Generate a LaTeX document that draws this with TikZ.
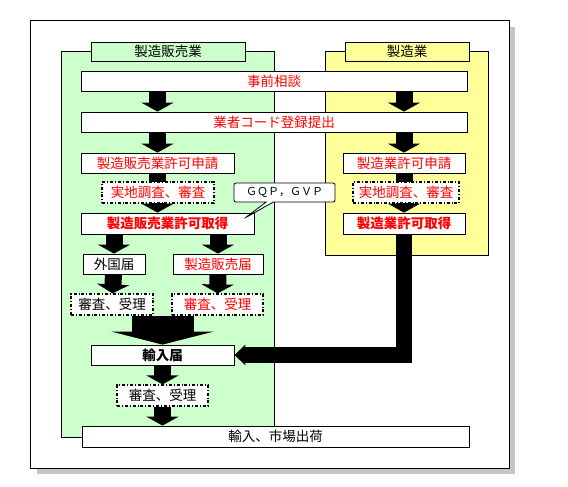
\documentclass[tikz,border=0pt]{standalone}
\usepackage{fontspec}
\newfontfamily\jp{Noto Sans CJK JP}
\usetikzlibrary{arrows.meta,shapes.callouts}
\definecolor{panelgreen}{HTML}{CCFFCC}
\definecolor{panelyellow}{HTML}{FFFF99}
\tikzset{
	box/.style={draw, fill=white, line width=0.8pt, inner sep=0pt, font=\jp\fontsize{13.5}{15}\selectfont},
	redbox/.style={box, text=red},
	boldbox/.style={font=\jp\bfseries\fontsize{13.5}{15}\selectfont},
	chkbox/.style={box, dash dot, line width=1.2pt},
	blk/.style={-{Triangle[width=32pt,length=9pt]}, line width=17pt},
}
\begin{document}
\begin{tikzpicture}[x=1pt,y=-1pt]
	\useasboundingbox (0,0) rectangle (568,487);
	% frame and panels
	\fill[gray!45] (37,27) rectangle (515,474);
	\draw[fill=white, line width=0.8pt] (30,20) rectangle (509,468);
	\draw[fill=panelgreen, line width=0.8pt] (61,51) rectangle (274,437);
	\draw[fill=panelyellow, line width=0.8pt] (325,51) rectangle (488,255);
	\node[box, fill=panelgreen, minimum width=154pt, minimum height=19pt] (labelS) at (168,51.5) {製造販売業};
	\node[box, fill=panelyellow, minimum width=124pt, minimum height=19pt] (labelM) at (407,51.5) {製造業};
	% boxes
	\node[redbox, minimum width=386pt, minimum height=20pt] (jizen) at (274,81) {事前相談};
	\node[redbox, minimum width=386pt, minimum height=20pt] (gyosha) at (274,122) {業者コード登録提出};
	\node[redbox, minimum width=153pt, minimum height=20pt] (shinseiS) at (157.5,163) {製造販売業許可申請};
	\node[redbox, boldbox, minimum width=173pt, minimum height=21pt] (shutokuS) at (167.5,223.5) {製造販売業許可取得};
	\node[redbox, minimum width=122pt, minimum height=20pt] (shinseiM) at (404,163) {製造業許可申請};
	\node[redbox, boldbox, minimum width=122pt, minimum height=21pt] (shutokuM) at (404,223.5) {製造業許可取得};
	\node[box, minimum width=62pt, minimum height=20pt] (gaikoku) at (114,264) {外国届};
	\node[redbox, minimum width=90pt, minimum height=20pt] (todoke) at (218,264) {製造販売届};
	\node[box, boldbox, minimum width=143pt, minimum height=20pt] (yunyu) at (162.5,355) {輸入届};
	\node[box, minimum width=387pt, minimum height=21pt] (shukka) at (275.5,436.5) {輸入、市場出荷};
	% arrows
	\draw[blk] (jizen.south -| shinseiS) -- (gyosha.north -| shinseiS);
	\draw[blk] (jizen.south -| shinseiM) -- (gyosha.north -| shinseiM);
	\draw[blk] (gyosha.south -| shinseiS) -- (shinseiS.north);
	\draw[blk] (gyosha.south -| shinseiM) -- (shinseiM.north);
	\draw[blk] (shinseiS.south) -- (shinseiS.south |- shutokuS.north);
	\draw[blk] (shinseiM.south) -- (shutokuM.north);
	\draw[blk] (shutokuS.south -| gaikoku) -- (gaikoku.north);
	\draw[blk] (shutokuS.south -| todoke) -- (todoke.north);
	\node[chkbox, text=red, minimum width=112pt, minimum height=21pt] (chosaS) at (158,192.5) {実地調査、審査};
	\node[chkbox, text=red, minimum width=106pt, minimum height=21pt] (chosaM) at (406,192.5) {実地調査、審査};
	\node[chkbox, minimum width=82pt, minimum height=21pt] (shinsaA) at (112,304.5) {審査、受理};
	\node[chkbox, text=red, minimum width=91pt, minimum height=21pt] (shinsaB) at (217.5,304.5) {審査、受理};
	\draw[blk] (gaikoku) -- (shinsaA);
	\draw[blk] (todoke) -- (shinsaB);
	\draw[-{Triangle[width=102pt,length=13pt]}, line width=62pt] (yunyu.north |- shinsaA.south) -- (yunyu.north);
	\draw[-{Triangle[width=20pt,length=11pt]}, line width=16pt, line join=miter] (shutokuM.south) |- (yunyu.east);
	\node[chkbox, minimum width=91pt, minimum height=21pt] (shinsaC) at (162.5,395.5) {審査、受理};
	\draw[blk] (yunyu) -- (shinsaC);
	\draw[blk] (shinsaC) -- (shukka.north -| shinsaC);
	% callout
	\node[box, rectangle callout, rounded corners=2pt, font=\jp\fontsize{11}{13}\selectfont, minimum width=101pt, minimum height=19pt,
		callout absolute pointer={(245,218)}] (gqp) at (284.5,192.5) {ＧＱＰ，ＧＶＰ};
\end{tikzpicture}
\end{document}
